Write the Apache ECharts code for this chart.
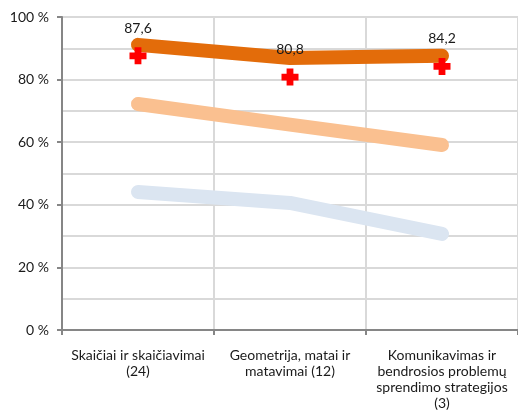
<!DOCTYPE html>
<html><head><meta charset="utf-8">
<script src="https://cdn.jsdelivr.net/npm/echarts@6/dist/echarts.min.js"></script>
<style>html,body{margin:0;padding:0;background:#fff}#c{width:518px;height:417px}</style>
</head><body><div id="c"></div>
<script>
const categories = ['Skaičiai ir skaičiavimai\n(24)', 'Geometrija, matai ir\nmatavimai (12)', 'Komunikavimas ir\nbendrosios problemų\nsprendimo strategijos\n(3)'];
const seriesHigh = [91.1, 86.9, 87.6];
const seriesMid = [72.2, 65.6, 59.1];
const seriesLow = [44.1, 40.6, 30.7];
const seriesMarks = [87.6, 80.8, 84.2];
const yTicks = [0, 20, 40, 60, 80, 100];

const chart = echarts.init(document.getElementById('c'));
const font = 'Lato';
const lineStyle = (c) => ({ width: 14, color: c, cap: 'round', join: 'round' });
chart.setOption({
  animation: false,
  grid: { left: 62, right: 0, top: 17, bottom: 87 },
  xAxis: {
    type: 'category', data: categories, boundaryGap: true,
    axisLine: { lineStyle: { color: '#868686', width: 2 } },
    axisTick: { show: true, length: 5, lineStyle: { color: '#868686', width: 2 } },
    splitLine: { show: true, lineStyle: { color: '#d9d9d9', width: 2 } },
    axisLabel: { interval: 0, fontFamily: font, fontSize: 14, color: '#1a1a1a', lineHeight: 16, margin: 17 }
  },
  yAxis: {
    type: 'value', min: 0, max: 100, interval: 20,
    axisLine: { show: true, lineStyle: { color: '#868686', width: 2 } },
    axisTick: { show: true, length: 5, lineStyle: { color: '#868686', width: 2 } },
    splitLine: { show: true, lineStyle: { color: '#d9d9d9', width: 2 } },
    minorTick: { show: false, splitNumber: 2 },
    minorSplitLine: { show: true, lineStyle: { color: '#d9d9d9', width: 2 } },
    axisLabel: { fontFamily: font, fontSize: 14, color: '#1a1a1a', margin: 13,
      formatter: (v) => yTicks.includes(v) ? v + ' %' : '' }
  },
  series: [
    { type: 'line', data: seriesLow, symbol: 'none', lineStyle: lineStyle('#dbe5f1'), z: 2 },
    { type: 'line', data: seriesMid, symbol: 'none', lineStyle: lineStyle('#fac090'), z: 2 },
    { type: 'line', data: seriesHigh, symbol: 'none', lineStyle: lineStyle('#e36c0a'), z: 3 },
    { type: 'line', data: seriesMarks, symbol: 'path://M3,0H7V3H10V7H7V10H3V7H0V3H3Z', symbolSize: 17,
      itemStyle: { color: '#ff0000' }, lineStyle: { width: 0, opacity: 0 }, z: 5,
      label: { show: true, position: 'top', distance: 12, fontFamily: font, fontSize: 14, color: '#1a1a1a',
        formatter: (p) => String(p.value).replace('.', ',') } }
  ]
});
</script></body></html>
